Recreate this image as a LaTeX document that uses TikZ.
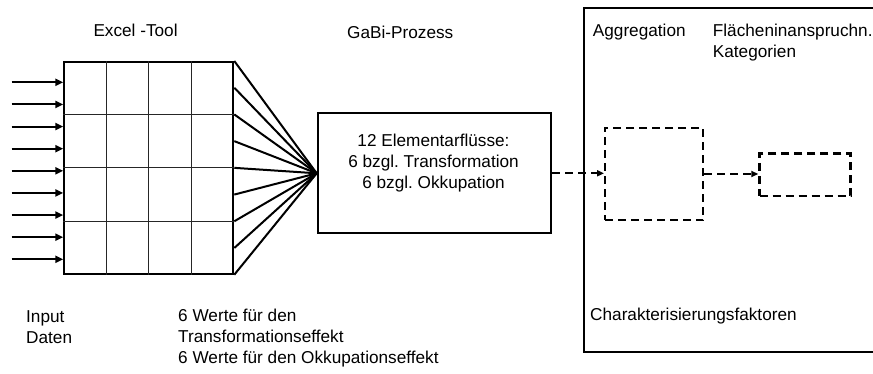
\documentclass[tikz,border=0pt]{standalone}
\usepackage{fontspec}
\setmainfont{Liberation Sans}
\usetikzlibrary{arrows.meta,calc}
\frenchspacing
\begin{document}
\begin{tikzpicture}[x=1pt,y=-1pt,
  lbl/.style={anchor=base west, inner sep=0pt, font=\fontsize{17.2}{21}\selectfont\frenchspacing},
  solidbox/.style={draw, line width=2pt, inner sep=0pt, anchor=north west},
  dashbox/.style={draw, dash pattern=on 8pt off 5pt, line width=2pt, inner sep=0pt, anchor=north west},
  dashline/.style={dash pattern=on 8pt off 5pt, line width=2pt},
  tip/.style={-{Triangle[length=8pt,width=7pt]}},
  gridline/.style={line width=1pt, black!85},
  fanline/.style={line width=2pt},
]
\useasboundingbox (0,0) rectangle (873,374);
\clip (0,0) rectangle (873,374);

% Excel grid
\node[solidbox, minimum width=169pt, minimum height=211.7pt] (grid) at (63.3,61) {};
\foreach \f in {0.25,0.5,0.75} {
  \draw[gridline] ($(grid.north west)!\f!(grid.north east)$) -- ($(grid.south west)!\f!(grid.south east)$);
  \draw[gridline] ($(grid.north west)!\f!(grid.south west)$) -- ($(grid.north east)!\f!(grid.south east)$);
}

% GaBi process box
\node[solidbox, minimum width=233.3pt, minimum height=120pt] (gabi) at (316.7,112.3) {};
\node[lbl, anchor=base] (gabitext) at (433.5,146.7)
  {\begin{tabular}[t]{@{}c@{}}12 Elementarflüsse:\\6 bzgl. Transformation\\6 bzgl. Okkupation\end{tabular}};

% input arrows
\foreach \i in {0,...,8} {
  \pgfmathsetmacro\yy{82.3+22.125*\i}
  \coordinate (in\i) at (11.7,\yy);
  \draw[line width=2pt, tip] (in\i) -- (in\i -| grid.west);
}

% fan lines
\foreach \k in {0,...,8} {
  \pgfmathsetmacro\ff{\k/8}
  \draw[fanline] ($(grid.north east)!\ff!(grid.south east)$) -- (gabi.west);
}

% right frame
\node[solidbox, minimum width=340pt, minimum height=344pt] (frame) at (583,7) {};
\node[dashbox, minimum width=98.3pt, minimum height=92.6pt] (aggbox) at (604,126.7) {};
\node[dashbox, line width=2.5pt, minimum width=91pt, minimum height=42.7pt] (catbox) at (758.3,152.3) {};

\draw[dashline, -{Triangle[length=7pt,width=6pt]}] (gabi.east) -- (gabi.east -| aggbox.west);
\draw[dashline, -{Triangle[length=7pt,width=6pt]}] (aggbox.east) -- (aggbox.east -| catbox.west);

% labels
\node[lbl] (exceltool) at (93.3,36.7) {Excel -Tool};
\node[lbl] (gabiproz) at (347,38.3) {GaBi-Prozess};
\node[lbl] (aggr) at (592.7,36.7) {Aggregation};
\node[lbl] (flaeche) at (712.7,36.7) {\begin{tabular}[t]{@{}l@{}}Flächeninanspruchn.\\Kategorien\end{tabular}};
\node[lbl] (charak) at (590,320) {Charakterisierungsfaktoren};
\node[lbl] (input) at (26,322.7) {\begin{tabular}[t]{@{}l@{}}Input\\Daten\end{tabular}};
\node[lbl] (werte) at (178,321.7) {\begin{tabular}[t]{@{}l@{}}6 Werte für den\\Transformationseffekt\\6 Werte für den Okkupationseffekt\end{tabular}};
\end{tikzpicture}
\end{document}
